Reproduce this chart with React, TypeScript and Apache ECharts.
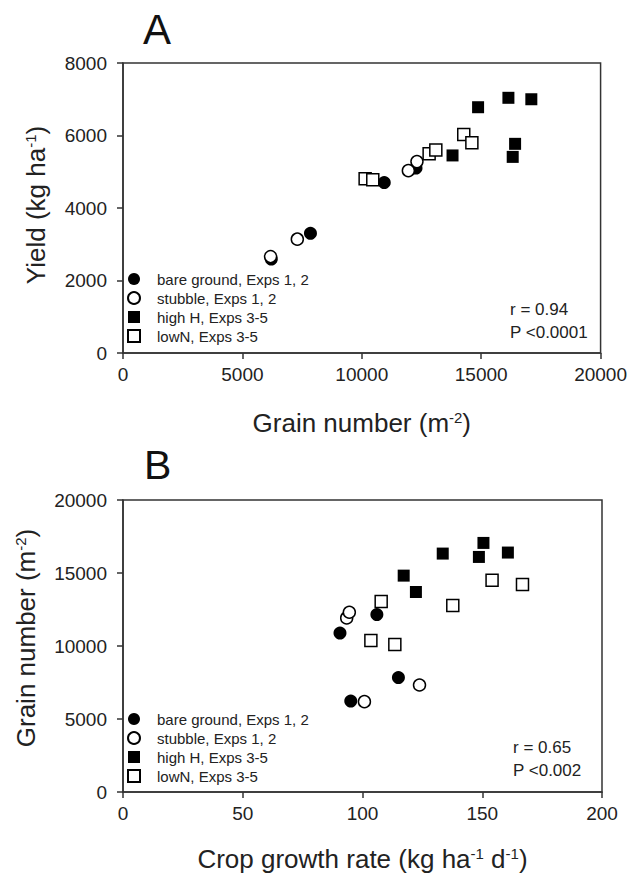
import React, { useEffect, useRef } from "react";
import * as echarts from "echarts";

// Panel A: grain number (m-2) vs yield (kg ha-1)
const seriesNames = ["bare ground, Exps 1, 2", "stubble, Exps 1, 2", "high H, Exps 3-5", "lowN, Exps 3-5"];

const aBareGround: [number, number][] = [[6210, 2590], [7850, 3300], [10940, 4700], [12270, 5100]];
const aStubble: [number, number][] = [[6180, 2660], [7300, 3140], [11950, 5030], [12310, 5280]];
const aHighH: [number, number][] = [[14870, 6780], [16140, 7040], [17100, 7000], [13800, 5450], [16420, 5770], [16320, 5410]];
const aLowN: [number, number][] = [[10140, 4810], [10460, 4780], [12820, 5500], [13100, 5600], [14270, 6030], [14610, 5800]];

// Panel B: crop growth rate (kg ha-1 d-1) vs grain number (m-2)
const bBareGround: [number, number][] = [[90.6, 10890], [106.0, 12150], [115.0, 7840], [95.1, 6230]];
const bStubble: [number, number][] = [[93.4, 11920], [94.5, 12310], [123.8, 7330], [100.8, 6190]];
const bHighH: [number, number][] = [[117.2, 14820], [122.3, 13700], [133.5, 16330], [148.6, 16100], [150.5, 17060], [160.7, 16400]];
const bLowN: [number, number][] = [[107.8, 13040], [103.5, 10370], [113.5, 10100], [137.7, 12770], [154.1, 14500], [166.8, 14210]];

const aXTicks = [0, 5000, 10000, 15000, 20000];
const aYTicks = [0, 2000, 4000, 6000, 8000];
const bXTicks = [0, 50, 100, 150, 200];
const bYTicks = [0, 5000, 10000, 15000, 20000];

const statsA = ["r = 0.94", "P <0.0001"];
const statsB = ["r = 0.65", "P <0.002"];

const FONT = "'Liberation Sans', Arial, sans-serif";
const TXT = "#222";
const LINE = "#333";

export default function App() {
  const ref = useRef<HTMLDivElement>(null);
  useEffect(() => {
    if (!ref.current) return;
    const chart = echarts.init(ref.current, undefined, { renderer: "svg" });

    const rich = {
      m: { fontSize: 26, color: TXT, fontFamily: FONT },
      sup: { fontSize: 15, color: TXT, fontFamily: FONT, verticalAlign: "top" as const },
    };

    const axisBase = (idx: number, ticks: number[], name: string, gap: number, margin: number, namePad: number[]) => ({
      gridIndex: idx,
      type: "value" as const,
      min: ticks[0],
      max: ticks[ticks.length - 1],
      interval: ticks[1] - ticks[0],
      name,
      nameLocation: "middle" as const,
      nameGap: gap,
      nameTextStyle: { rich, padding: namePad },
      axisLine: { show: true, lineStyle: { color: LINE, width: 1.5 } },
      axisTick: { show: true, length: 6, lineStyle: { color: LINE, width: 1.5 } },
      splitLine: { show: false },
      axisLabel: {
        color: TXT,
        fontSize: 19,
        fontFamily: FONT,
        margin,
        formatter: (v: number) => String(v),
      },
    });

    const styles = [
      { symbol: "circle", symbolSize: 13, itemStyle: { color: "#000", borderColor: "#000", borderWidth: 0, opacity: 1 } },
      { symbol: "circle", symbolSize: 12, itemStyle: { color: "#fff", borderColor: "#000", borderWidth: 1.5, opacity: 1 } },
      { symbol: "rect", symbolSize: 12, itemStyle: { color: "#000", borderColor: "#000", borderWidth: 0, opacity: 1 } },
      { symbol: "rect", symbolSize: 12, itemStyle: { color: "#fff", borderColor: "#000", borderWidth: 1.5, opacity: 1 } },
    ];
    const dataA = [aBareGround, aStubble, aHighH, aLowN];
    const dataB = [bBareGround, bStubble, bHighH, bLowN];
    const series: any[] = [];
    [dataA, dataB].forEach((set, gi) => {
      set.forEach((d, i) => {
        series.push({
          type: "scatter",
          name: seriesNames[i],
          xAxisIndex: gi,
          yAxisIndex: gi,
          data: d,
          ...styles[i],
        });
      });
    });

    const legendBase = {
      orient: "vertical" as const,
      left: 127,
      padding: 0,
      itemWidth: 12,
      itemHeight: 12,
      itemGap: 4,
      selectedMode: false,
      data: seriesNames,
      textStyle: { color: TXT, fontSize: 15, fontFamily: FONT, padding: [0, 0, 0, 12] },
    };

    const statText = (lines: string[], x: number, y0: number) =>
      lines.map((t, i) => ({
        type: "text",
        left: x,
        top: y0 + i * 23,
        style: { text: t, fill: TXT, fontSize: 17, fontFamily: FONT },
      }));

    chart.setOption({
      animation: false,
      backgroundColor: "#fff",
      textStyle: { fontFamily: FONT },
      grid: [
        { left: 123, top: 63, width: 479, height: 290, show: true, borderColor: LINE, borderWidth: 1.5 },
        { left: 123, top: 500, width: 479, height: 292, show: true, borderColor: LINE, borderWidth: 1.5 },
      ],
      xAxis: [
        axisBase(0, aXTicks, "{m|Grain number (m}{sup|-2}{m|)}", 57, 12, [0, 0, 0, 0]),
        axisBase(1, bXTicks, "{m|Crop growth rate (kg ha}{sup|-1}{m| d}{sup|-1}{m|)}", 54, 12, [0, 0, 0, 0]),
      ],
      yAxis: [
        axisBase(0, aYTicks, "{m|Yield (kg ha}{sup|-1}{m|)}", 74, 16, [0, 0, 0, 6]),
        axisBase(1, bYTicks, "{m|Grain number (m}{sup|-2}{m|)}", 84, 16, [0, 0, 0, 16]),
      ],
      legend: [
        { ...legendBase, top: 271.5 },
        { ...legendBase, top: 711.5 },
      ],
      graphic: [
        { type: "text", left: 143, top: 8, style: { text: "A", fill: "#111", fontSize: 42, fontFamily: FONT } },
        { type: "text", left: 144, top: 444, style: { text: "B", fill: "#111", fontSize: 41, fontFamily: FONT } },
        ...statText(statsA, 510, 301),
        ...statText(statsB, 513, 739),
      ],
      series,
    });
    return () => chart.dispose();
  }, []);
  return <div ref={ref} style={{ position: "absolute", left: 0, top: 0, width: 630, height: 878 }} />;
}
